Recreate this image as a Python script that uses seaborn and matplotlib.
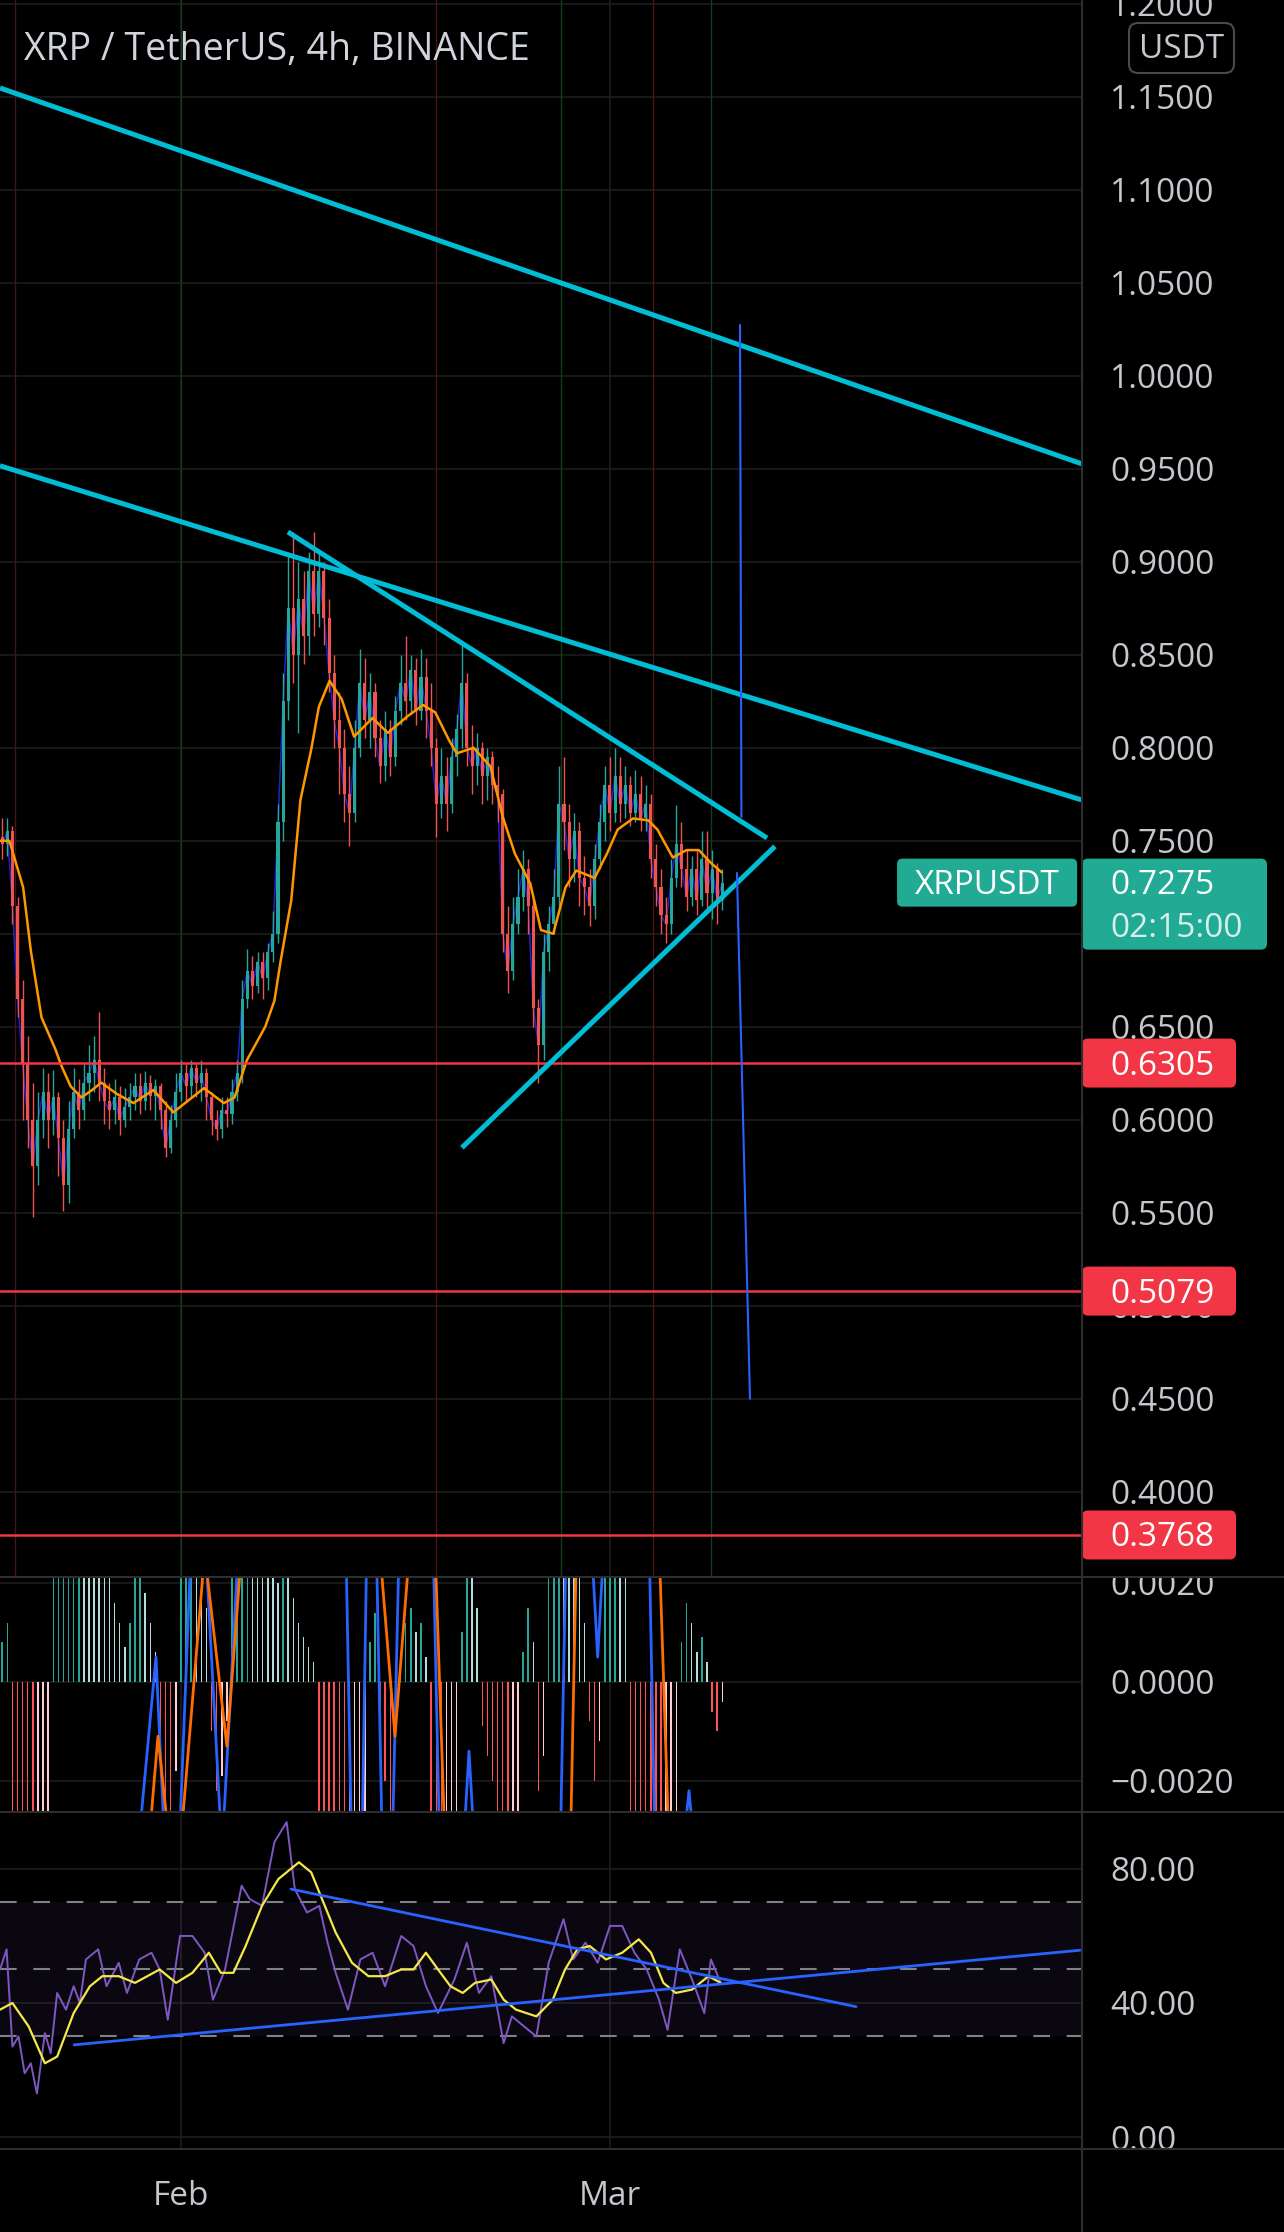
import numpy as np
import matplotlib
matplotlib.use("Agg")
import matplotlib.pyplot as plt
from matplotlib.patches import FancyBboxPatch
from matplotlib.lines import Line2D
import seaborn as sns

# ---------------- data ----------------
# 8h candles, first one on Jan 19 08:00, x axis = days since Feb 1
first_open = 0.752
close = [0.748, 0.755, 0.715, 0.665, 0.630, 0.600, 0.575, 0.600, 0.615, 0.600,
         0.612, 0.590, 0.565, 0.595, 0.615, 0.605, 0.620, 0.625, 0.632, 0.620,
         0.610, 0.605, 0.612, 0.600, 0.607, 0.612, 0.618, 0.610, 0.620, 0.613,
         0.618, 0.605, 0.585, 0.600, 0.615, 0.625, 0.618, 0.628, 0.620, 0.625,
         0.612, 0.600, 0.595, 0.605, 0.603, 0.615, 0.625, 0.665, 0.680, 0.672,
         0.685, 0.676, 0.690, 0.700, 0.760, 0.825, 0.875, 0.850, 0.880, 0.860,
         0.895, 0.872, 0.895, 0.870, 0.840, 0.815, 0.800, 0.775, 0.765, 0.800,
         0.835, 0.815, 0.830, 0.805, 0.790, 0.810, 0.795, 0.820, 0.835, 0.825,
         0.842, 0.820, 0.838, 0.820, 0.800, 0.770, 0.785, 0.770, 0.795, 0.810,
         0.835, 0.800, 0.790, 0.800, 0.785, 0.795, 0.780, 0.775, 0.700, 0.680,
         0.705, 0.720, 0.735, 0.715, 0.660, 0.640, 0.690, 0.705, 0.720, 0.770,
         0.760, 0.740, 0.755, 0.730, 0.725, 0.715, 0.740, 0.760, 0.780, 0.765,
         0.785, 0.770, 0.780, 0.765, 0.775, 0.762, 0.770, 0.740, 0.725, 0.710,
         0.705, 0.730, 0.748, 0.735, 0.720, 0.735, 0.718, 0.740, 0.722, 0.735,
         0.718, 0.7275]
high = [0.762, 0.762, 0.758, 0.720, 0.675, 0.645, 0.620, 0.615, 0.628, 0.625,
        0.627, 0.615, 0.600, 0.610, 0.628, 0.622, 0.630, 0.640, 0.645, 0.658,
        0.628, 0.620, 0.622, 0.618, 0.617, 0.620, 0.625, 0.625, 0.626, 0.624,
        0.622, 0.620, 0.610, 0.608, 0.625, 0.632, 0.630, 0.632, 0.630, 0.632,
        0.628, 0.615, 0.605, 0.612, 0.612, 0.622, 0.632, 0.675, 0.692, 0.688,
        0.690, 0.690, 0.695, 0.712, 0.770, 0.840, 0.905, 0.916, 0.900, 0.895,
        0.905, 0.916, 0.905, 0.900, 0.880, 0.850, 0.830, 0.810, 0.790, 0.815,
        0.853, 0.848, 0.840, 0.835, 0.815, 0.820, 0.815, 0.828, 0.850, 0.860,
        0.850, 0.848, 0.853, 0.848, 0.835, 0.805, 0.800, 0.795, 0.805, 0.818,
        0.855, 0.840, 0.812, 0.808, 0.803, 0.800, 0.798, 0.790, 0.778, 0.715,
        0.720, 0.735, 0.745, 0.740, 0.720, 0.665, 0.700, 0.715, 0.735, 0.790,
        0.795, 0.770, 0.765, 0.760, 0.742, 0.735, 0.748, 0.770, 0.790, 0.795,
        0.800, 0.795, 0.790, 0.785, 0.788, 0.785, 0.780, 0.775, 0.748, 0.735,
        0.720, 0.740, 0.769, 0.760, 0.745, 0.742, 0.745, 0.755, 0.755, 0.745,
        0.738, 0.735]
low = [0.740, 0.742, 0.705, 0.655, 0.600, 0.585, 0.548, 0.565, 0.590, 0.585,
       0.592, 0.570, 0.551, 0.555, 0.590, 0.595, 0.600, 0.610, 0.615, 0.610,
       0.598, 0.595, 0.598, 0.592, 0.596, 0.600, 0.605, 0.603, 0.605, 0.605,
       0.600, 0.595, 0.580, 0.582, 0.596, 0.610, 0.610, 0.612, 0.612, 0.610,
       0.600, 0.592, 0.589, 0.590, 0.596, 0.598, 0.610, 0.620, 0.660, 0.665,
       0.668, 0.665, 0.670, 0.685, 0.695, 0.750, 0.815, 0.835, 0.808, 0.845,
       0.850, 0.860, 0.865, 0.855, 0.830, 0.800, 0.775, 0.760, 0.747, 0.760,
       0.795, 0.805, 0.800, 0.795, 0.781, 0.782, 0.785, 0.790, 0.812, 0.815,
       0.818, 0.812, 0.815, 0.805, 0.790, 0.752, 0.762, 0.755, 0.765, 0.785,
       0.800, 0.790, 0.775, 0.780, 0.770, 0.772, 0.770, 0.760, 0.690, 0.668,
       0.675, 0.700, 0.712, 0.700, 0.650, 0.620, 0.632, 0.680, 0.700, 0.715,
       0.745, 0.725, 0.728, 0.715, 0.710, 0.704, 0.708, 0.735, 0.750, 0.755,
       0.760, 0.760, 0.762, 0.758, 0.760, 0.755, 0.755, 0.730, 0.715, 0.700,
       0.695, 0.700, 0.725, 0.725, 0.712, 0.715, 0.710, 0.715, 0.712, 0.708,
       0.705, 0.713]

ema_day = [-11.81, -11.2, -10.3, -9.8, -9.1, -8.2, -7.8, -7.2, -6.5, -5.8,
           -5.2, -4.2, -3.1, -1.8, -0.5, 1.5, 2.8, 3.5, 4.3, 5.5,
           6.1, 6.5, 7.2, 7.8, 8.5, 9.0, 9.7, 10.5, 11.3, 12.5,
           13.5, 14.8, 15.8, 16.6, 17.5, 18.0, 19.1, 20.2, 21.0, 21.8,
           22.8, 23.5, 24.3, 25.1, 25.8, 27.0, 27.8, 28.5, 29.5, 30.5,
           31.1, 32.1, 33.0, 33.8, 34.6, 35.3]
ema_val = [0.750, 0.750, 0.725, 0.691, 0.655, 0.638, 0.629, 0.618, 0.612, 0.616,
           0.620, 0.614, 0.609, 0.616, 0.604, 0.617, 0.609, 0.612, 0.632, 0.650,
           0.664, 0.685, 0.718, 0.772, 0.799, 0.822, 0.836, 0.826, 0.806, 0.816,
           0.808, 0.817, 0.823, 0.819, 0.804, 0.797, 0.800, 0.790, 0.763, 0.743,
           0.727, 0.702, 0.700, 0.725, 0.734, 0.730, 0.743, 0.756, 0.762, 0.761,
           0.756, 0.741, 0.745, 0.745, 0.738, 0.733]

price_ticks = [0.40, 0.45, 0.50, 0.55, 0.60, 0.65, 0.70, 0.75, 0.80, 0.85,
               0.90, 0.95, 1.00, 1.05, 1.10, 1.15, 1.20]
price_labels = ["0.4000", "0.4500", "0.5000", "0.5500", "0.6000", "0.6500",
                "0.7000", "0.7500", "0.8000", "0.8500", "0.9000", "0.9500",
                "1.0000", "1.0500", "1.1000", "1.1500", "1.2000"]
levels = [0.6305, 0.5079, 0.3768]
last_price = 0.7275
countdown = "02:15:00"

# drawings: ((day, value), (day, value))
price_trend = [((-11.81, 1.1547), (58.81, 0.9526)),
               ((-11.81, 0.9516), (58.81, 0.7719)),
               ((6.98, 0.916), (38.25, 0.7515)),
               ((18.34, 0.585), (38.77, 0.747))]
projection = [((36.49, 1.0273), (36.58, 0.7628)),
              ((36.29, 0.7327), (37.14, 0.450))]
red_marks = [-10.84, 16.64, 30.8]
green_marks = [0.0, 24.8, 34.6]

hist = [0.0008, 0.0012, -0.0035, -0.006, -0.008, -0.009, -0.009, -0.007, -0.005, -0.003,
        0.0025, 0.004, 0.005, 0.005, 0.006, 0.006, 0.0055, 0.005, 0.004, 0.0035,
        0.003, 0.0025, 0.0016, 0.0012, 0.0007, 0.0012, 0.0022, 0.0028, 0.0018, 0.0012,
        0.0006, -0.0012, -0.0025, -0.003, -0.0018, 0.0025, 0.0035, 0.004, 0.003, 0.0024,
        0.0015, -0.001, -0.0022, -0.0019, -0.0008, 0.0022, 0.004, 0.008, 0.010, 0.009,
        0.004, 0.003, 0.0025, 0.0022, 0.002, 0.0024, 0.0021, 0.0017, 0.0012, 0.0009,
        0.0007, 0.0004, -0.003, -0.005, -0.007, -0.009, -0.010, -0.010, -0.008, -0.006,
        -0.004, -0.003, 0.0008, 0.0014, -0.0008, -0.002, -0.0026, -0.0012, 0.0006, 0.0012,
        0.0015, 0.001, 0.0012, 0.0005, -0.003, -0.006, -0.007, -0.006, -0.0045, -0.003,
        0.001, 0.003, 0.0025, 0.0015, -0.0009, -0.0015, -0.002, -0.0026, -0.006, -0.008,
        -0.006, -0.003, 0.0006, 0.0015, 0.0008, -0.0022, -0.0015, 0.003, 0.0045, 0.007,
        0.0065, 0.004, 0.0035, 0.0025, 0.0012, -0.0008, -0.002, -0.0012, 0.0022, 0.0035,
        0.0045, 0.0032, 0.0025, -0.0026, -0.0035, -0.0045, -0.005, -0.007, -0.0085, -0.009,
        -0.008, -0.005, -0.0028, 0.0008, 0.0016, 0.0012, 0.0006, 0.0009, 0.0004, -0.0006,
        -0.001, -0.0004]
macd_day = [-11.81, -9.0, -6.0, -3.5, -2.68, -1.63, -1.11, -0.6, -0.07, 0.59,
            1.1, 1.70, 2.55, 2.68, 2.81, 3.66, 5.5, 8.0, 10.0, 10.8,
            11.1, 11.5, 11.85, 12.1, 12.4, 12.79, 13.1, 13.6, 13.84, 14.2,
            15.5, 16.5, 16.84, 17.5, 18.5, 18.8, 19.1, 21.0, 23.5, 24.8,
            25.1, 26.0, 26.9, 27.2, 27.5, 28.5, 30.6, 30.9, 31.8, 32.9,
            33.16, 33.4, 35.33]
macd_val = [-0.006, -0.035, -0.02, -0.008, -0.003, 0.0005, -0.003, -0.005, -0.003, 0.0022,
            0.004, 0.0022, -0.0027, -0.0032, -0.0027, 0.0022, 0.012, 0.05, 0.02, 0.0022,
            -0.0027, -0.005, -0.0027, 0.0022, 0.004, 0.0022, -0.0027, -0.004, -0.0027, 0.0022,
            0.006, 0.0022, -0.0027, -0.005, -0.003, -0.0014, -0.003, -0.03, -0.03, -0.0027,
            0.0022, 0.006, 0.0022, 0.0005, 0.0022, 0.007, 0.0022, -0.0027, -0.008, -0.003,
            -0.0022, -0.003, -0.004]
sig_day = [-11.81, -8.0, -4.0, -2.02, -1.50, -0.85, -0.3, 0.13, 1.44, 1.6,
           1.70, 3.0, 3.85, 6.0, 9.0, 11.5, 12.6, 13.1, 13.97, 14.8,
           15.8, 16.64, 17.17, 18.0, 21.0, 24.0, 25.46, 25.78, 27.0, 29.0,
           31.27, 31.79, 33.0, 35.33]
sig_val = [-0.004, -0.025, -0.012, -0.003, -0.0011, -0.003, -0.004, -0.0027, 0.0022, 0.0025,
           0.0022, -0.0013, 0.0022, 0.01, 0.035, 0.01, 0.003, 0.0022, -0.0011, 0.0022,
           0.004, 0.0022, -0.0027, -0.005, -0.01, -0.015, -0.0027, 0.0022, 0.004, 0.005,
           0.0022, -0.0027, -0.005, -0.004]
macd_ticks = [-0.002, 0.0, 0.002]
macd_labels = ["\u22120.0020", "0.0000", "0.0020"]

rsi_day = [-11.81, -11.38, -11.0, -10.6, -10.2, -9.8, -9.4, -8.88, -8.5, -8.08,
           -7.5, -7.0, -6.6, -6.2, -5.4, -4.86, -4.06, -3.52, -2.72, -1.92,
           -1.39, -0.86, -0.06, 0.75, 1.55, 2.09, 2.88, 3.96, 4.49, 5.29,
           6.10, 6.90, 7.43, 8.23, 9.03, 9.57, 10.10, 10.90, 11.71, 12.51,
           13.32, 14.38, 15.18, 15.99, 16.78, 17.85, 18.66, 19.45, 20.26, 21.06,
           21.6, 22.4, 23.2, 24.0, 24.97, 25.6, 26.4, 27.2, 28.0, 28.8,
           29.6, 30.4, 31.2, 31.76, 32.56, 33.36, 34.16, 34.59, 35.23]
rsi_val = [50, 56, 27, 30, 19, 22, 13, 31, 25, 43,
           38, 45, 40, 53, 56, 45, 52, 43, 53, 55,
           50, 35, 60, 60, 55, 41, 50, 75, 71, 69,
           88, 94, 74, 67, 69, 58, 49, 38, 53, 55,
           45, 60, 57, 45, 37, 47, 58, 43, 48, 28,
           36, 33, 30, 52, 65, 53, 58, 52, 63, 63,
           55, 50, 41, 32, 56, 47, 37, 53, 46]
rsima_day = [-11.81, -11.0, -9.94, -8.88, -8.08, -7.0, -5.94, -5.13, -4.06, -3.0,
             -1.39, -0.32, 0.75, 1.82, 2.61, 3.42, 4.22, 5.29, 6.36, 7.70,
             8.50, 9.30, 10.10, 11.16, 12.24, 13.32, 14.38, 15.18, 15.99, 16.78,
             17.59, 18.39, 19.19, 20.26, 21.06, 21.87, 23.2, 24.27, 25.07, 25.87,
             26.68, 27.74, 28.8, 29.88, 30.68, 31.49, 32.29, 33.36, 34.43, 35.23]
rsima_val = [38, 40, 33, 22, 24, 37, 45, 48, 48, 46,
             50, 46, 49, 55, 49, 49, 57, 69, 77, 82,
             79, 70, 61, 52, 48, 48, 50, 50, 55, 50,
             45, 43, 46, 47, 41, 38, 36, 41, 50, 56,
             57, 53, 55, 59, 55, 46, 43, 44, 48, 46]
rsi_trend = [((-6.98, 27.5), (58.81, 55.8)),
             ((7.18, 74.0), (44.06, 38.9))]
rsi_ticks = [0, 40, 80]
rsi_labels = ["0.00", "40.00", "80.00"]
month_days = [0, 28]
month_labels = ["Feb", "Mar"]

# ---------------- style ----------------
sns.set_style("dark", {"axes.facecolor": "black", "figure.facecolor": "black",
                       "axes.edgecolor": "black"})
plt.rcParams["font.family"] = ["Open Sans", "DejaVu Sans"]

W, H = 1284, 2232
PX = 0.0005376          # price per pixel in the main pane
DX = 1 / 15.32          # days per pixel
TXT = "#c5c7cd"
FS = 24


def box(l, t, r, b):
    return [l / W, 1 - b / H, (r - l) / W, (b - t) / H]


fig = plt.figure(figsize=(W / 100, H / 100), dpi=100)
ax = fig.add_axes(box(0, 0, 1082, 1577))
axm = fig.add_axes(box(0, 1577, 1082, 1812), sharex=ax)
axr = fig.add_axes(box(0, 1812, 1082, 2149), sharex=ax)
axp = fig.add_axes(box(1082, 0, 1284, 1577), sharey=ax)
axmc = fig.add_axes(box(1082, 1577, 1284, 1812), sharey=axm)
axrc = fig.add_axes(box(1082, 1812, 1284, 2149), sharey=axr)
axp.set_zorder(3)
axmc.set_zorder(2)
axrc.set_zorder(2)
for a in (ax, axm, axr, axp, axmc, axrc):
    a.set_facecolor("black")
    for s in a.spines.values():
        s.set_visible(False)

# ---------------- main pane ----------------
close = np.array(close)
high = np.array(high)
low = np.array(low)
bar_day = np.arange(len(close)) / 3 - 35 / 3
opens = np.r_[first_open, close[:-1]]
cols = np.where(close >= opens, "#26a69a", "#ef5350")

for d in red_marks:
    ax.axvline(d, color="#4a1414", lw=1, zorder=1)
for d in green_marks:
    ax.axvline(d, color="#133a1a", lw=1, zorder=1)

sns.lineplot(x=bar_day, y=close, ax=ax, color="#2222cc", lw=1.1, zorder=2)
ax.vlines(bar_day, low, high, colors=cols, lw=1, zorder=3)
ax.bar(bar_day, np.maximum(np.abs(close - opens), 0.0012),
       bottom=np.minimum(opens, close), width=0.2, color=cols, lw=0, zorder=4)
sns.lineplot(x=ema_day, y=ema_val, ax=ax, color="#ff9800", lw=1.8, zorder=5)

for lv in levels:
    ax.axhline(lv, color="#f23645", lw=1.8, zorder=6)
for (x0, y0), (x1, y1) in price_trend:
    ax.plot([x0, x1], [y0, y1], color="#00bcd4", lw=3.6, solid_capstyle="butt", zorder=7)
for (x0, y0), (x1, y1) in projection:
    ax.plot([x0, x1], [y0, y1], color="#2962ff", lw=1.5, zorder=7)

ax.set_xlim(-11.81, 58.81)
ax.set_ylim(1.202 - 1577 * PX, 1.202)
ax.set_yticks(price_ticks)
ax.set_xticks(month_days)
ax.grid(True, color="#1c1c1c", lw=1.2)
ax.tick_params(labelleft=False, labelbottom=False, length=0)
ax.set_xlabel("")
ax.set_ylabel("")

# symbol tag inside the chart
x_tag0 = 58.49 - 180 * DX
ax.add_patch(FancyBboxPatch((x_tag0, last_price - 24 * PX), 180 * DX, 48 * PX,
                            boxstyle="round,pad=0,rounding_size=0.35",
                            mutation_aspect=PX / DX, fc="#22ab94", ec="none", zorder=8))
ax.text(x_tag0 + 90 * DX, last_price - 3 * PX, "XRPUSDT", color="white", fontsize=FS,
        ha="center", va="center", zorder=9)

# ---------------- price scale ----------------
axp.set_xlim(0, 202)
axp.set_xticks([])
axp.grid(False)
axp.set_yticklabels(price_labels)
axp.tick_params(axis="y", length=0, labelleft=False, labelright=True,
                pad=-125.3, labelsize=FS, labelcolor=TXT)
for lv in levels:
    axp.add_patch(FancyBboxPatch((0, lv - 24.5 * PX), 154, 49 * PX,
                                 boxstyle="round,pad=0,rounding_size=6",
                                 mutation_aspect=PX, fc="#f23645", ec="none", zorder=5))
    axp.text(28, lv - 3 * PX, f"{lv:.4f}", color="white", fontsize=FS,
             va="center", ha="left", zorder=6)
axp.add_patch(FancyBboxPatch((0, last_price - 67 * PX), 185, 91 * PX,
                             boxstyle="round,pad=0,rounding_size=6",
                             mutation_aspect=PX, fc="#22ab94", ec="none", zorder=5))
axp.text(28, last_price - 3 * PX, f"{last_price:.4f}", color="white", fontsize=FS,
         va="center", ha="left", zorder=6)
axp.text(28, last_price - 46 * PX, countdown, color="#d6efea", fontsize=FS,
         va="center", ha="left", zorder=6)
axp.add_patch(FancyBboxPatch((47, 1.202 - 73 * PX), 105, 50 * PX,
                             boxstyle="round,pad=0,rounding_size=9",
                             mutation_aspect=PX, fc="black", ec="#4a4a4a", lw=1.5, zorder=5))
axp.text(99.5, 1.202 - 49 * PX, "USDT", color=TXT, fontsize=FS,
         ha="center", va="center", zorder=6)

# ---------------- MACD pane ----------------
hist = np.array(hist)
prev = np.r_[hist[0], hist[:-1]]
hcols = np.where(hist >= 0,
                 np.where(hist >= prev, "#26a69a", "#b2dfdb"),
                 np.where(hist <= prev, "#ff5252", "#ffcdd2"))
axm.bar(bar_day, hist, width=0.1, color=hcols, lw=0, zorder=2)
sns.lineplot(x=macd_day, y=macd_val, ax=axm, color="#2962ff", lw=2, zorder=3)
sns.lineplot(x=sig_day, y=sig_val, ax=axm, color="#ff6d00", lw=2, zorder=3)
axm.set_ylim(-0.00263, 0.00212)
axm.set_yticks(macd_ticks)
axm.grid(True, color="#1c1c1c", lw=1.2)
axm.tick_params(labelleft=False, labelbottom=False, length=0)
axm.set_xlabel("")
axm.set_ylabel("")

axmc.set_xlim(0, 202)
axmc.set_xticks([])
axmc.grid(False)
axmc.set_yticklabels(macd_labels)
axmc.tick_params(axis="y", length=0, labelleft=False, labelright=True,
                 pad=-125.3, labelsize=FS, labelcolor=TXT)

# ---------------- RSI pane ----------------
axr.axhspan(30, 70, color="#7e57c2", alpha=0.09, lw=0, zorder=1)
for v in (70, 50, 30):
    axr.axhline(v, color="#7f8189", lw=1.5, ls=(0, (8, 8)), zorder=2)
sns.lineplot(x=rsi_day, y=rsi_val, ax=axr, color="#7e57c2", lw=1.4, zorder=3)
sns.lineplot(x=rsima_day, y=rsima_val, ax=axr, color="#f5e94a", lw=1.6, zorder=4)
for (x0, y0), (x1, y1) in rsi_trend:
    axr.plot([x0, x1], [y0, y1], color="#2962ff", lw=2, zorder=5)
axr.set_ylim(-3.58, 97.0)
axr.set_yticks(rsi_ticks)
axr.grid(True, color="#1c1c1c", lw=1.2)
axr.set_xticklabels(month_labels)
axr.tick_params(axis="y", labelleft=False, length=0)
axr.tick_params(axis="x", length=0, pad=22, labelsize=FS, labelcolor=TXT)
axr.set_xlabel("")
axr.set_ylabel("")
ax.set_xlim(-11.81, 58.81)

axrc.set_xlim(0, 202)
axrc.set_xticks([])
axrc.grid(False)
axrc.set_yticklabels(rsi_labels)
axrc.tick_params(axis="y", length=0, labelleft=False, labelright=True,
                 pad=-125.3, labelsize=FS, labelcolor=TXT)

# ---------------- frame ----------------
sep = "#2e2e2e"
fig.add_artist(Line2D([1082 / W, 1082 / W], [0, 1], transform=fig.transFigure,
                      color=sep, lw=1.5, zorder=20))
for yy in (1577, 1812, 2149):
    fig.add_artist(Line2D([0, 1], [1 - yy / H, 1 - yy / H], transform=fig.transFigure,
                          color=sep, lw=1.5, zorder=20))

fig.text(24 / W, 1 - 50 / H, "XRP / TetherUS, 4h, BINANCE", fontsize=27,
         color="#d1d4dc", ha="left", va="center", zorder=30)

fig.savefig("out.png", dpi=100, facecolor="black")
